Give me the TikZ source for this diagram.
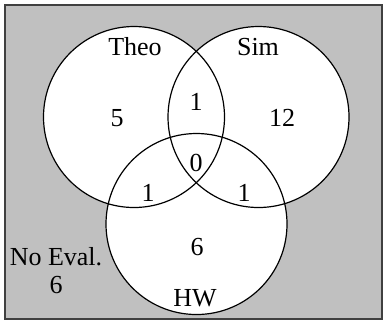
\documentclass[tikz,border=0pt]{standalone}
\usepackage{fontspec}
\setmainfont{Liberation Serif}
\definecolor{bggray}{RGB}{192,192,192}
\begin{document}
\begin{tikzpicture}[x=0.5pt,y=-0.5pt,every node/.style={font=\fontsize{13}{14}\selectfont,inner sep=0pt}]
\useasboundingbox (0,0) rectangle (383,323);
\draw[fill=bggray,draw=black!75,line width=0.8pt] (5,5) rectangle (382,319);%
\coordinate (ctheo) at (134,117);
\coordinate (csim) at (258.5,117);
\coordinate (chw) at (196.5,224);
\fill[white] (ctheo) circle (90.5) (csim) circle (90.5) (chw) circle (90.5);%
\begin{scope}[line width=0.6pt]
\draw (ctheo) circle (90.5);%
\draw (csim) circle (90.5);%
\draw (chw) circle (90.5);%
\end{scope}
\node (theo) at (135,47) {Theo};%
\node (sim) at (258,47) {Sim};%
\node (hw) at (195,298) {HW};%
\node (ntheo) at (117,118) {5};%
\node (nsim) at (282,118) {12};%
\node (nts) at (196,102) {1};%
\node (nall) at (196,163) {0};%
\node (nth) at (148,193) {1};%
\node (nsh) at (244,193) {1};%
\node (nhw) at (197,247) {6};%
\node[align=center] (noeval) at (56,271) {No Eval.\\6};%
\end{tikzpicture}
\end{document}
